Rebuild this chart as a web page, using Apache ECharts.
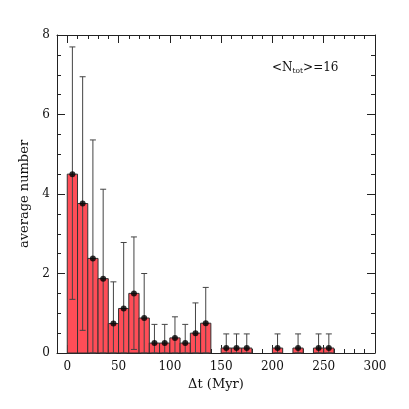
<!DOCTYPE html>
<html>
<head>
<meta charset="utf-8">
<script src="https://cdn.jsdelivr.net/npm/echarts@6/dist/echarts.min.js"></script>
<style>
  html, body { margin: 0; padding: 0; background: #fff; }
  #main { width: 409px; height: 409px; }
</style>
</head>
<body>
<div id="main"></div>
<script>
// histogram bins (Myr), left edges, width 10
const binStart = [0, 10, 20, 30, 40, 50, 60, 70, 80, 90, 100, 110, 120, 130, 150, 160, 170, 200, 220, 240, 250];
const avgNum   = [4.5, 3.76, 2.38, 1.87, 0.74, 1.12, 1.5, 0.88, 0.25, 0.25, 0.38, 0.25, 0.5, 0.75, 0.125, 0.125, 0.125, 0.125, 0.125, 0.125, 0.125];
const errUpper = [7.7, 6.95, 5.36, 4.12, 1.79, 2.78, 2.92, 2.0, 0.72, 0.72, 0.91, 0.72, 1.26, 1.65, 0.48, 0.48, 0.48, 0.48, 0.48, 0.48, 0.48];
const errLower = [1.35, 0.57, 0, 0, 0, 0, 0.09, 0, 0, 0, 0, 0, 0, 0, 0, 0, 0, 0, 0, 0, 0];
const xMajorTicks = [0, 50, 100, 150, 200, 250, 300];
const binWidth = 10;

const FONT = 'DejaVu Serif';
const AXIS_COLOR = '#222';

let chart = echarts.init(document.getElementById('main'));

// x axes: major (labels) + minor ticks, bottom and top
function xAxisDef(pos, major) {
  return {
    type: 'value', min: -10, max: 300, position: pos,
    interval: major ? 50 : 10,
    axisLine: { show: major, onZero: false, lineStyle: { color: AXIS_COLOR, width: 1 } },
    axisTick: major
      ? { inside: true, length: 8, customValues: xMajorTicks, lineStyle: { color: AXIS_COLOR } }
      : { inside: true, length: 4, lineStyle: { color: AXIS_COLOR } },
    axisLabel: (major && pos === 'bottom')
      ? { customValues: xMajorTicks, fontFamily: FONT, fontSize: 12, color: '#111', margin: 8 }
      : { show: false },
    splitLine: { show: false },
    name: (major && pos === 'bottom') ? 'Δt (Myr)' : '',
    nameLocation: 'middle', nameGap: 24,
    nameTextStyle: { fontFamily: FONT, fontSize: 13, color: '#111' }
  };
}

function yAxisDef(pos) {
  return {
    type: 'value', min: 0, max: 8, interval: 2, position: pos,
    axisLine: { show: true, onZero: false, lineStyle: { color: AXIS_COLOR, width: 1 } },
    axisTick: { inside: true, length: 8, lineStyle: { color: AXIS_COLOR } },
    minorTick: { show: true, splitNumber: 4, length: 4, lineStyle: { color: AXIS_COLOR } },
    axisLabel: pos === 'left'
      ? { fontFamily: FONT, fontSize: 12, color: '#111', margin: 7 }
      : { show: false },
    splitLine: { show: false },
    name: pos === 'left' ? 'average number' : '',
    nameLocation: 'middle', nameGap: 14,
    nameTextStyle: { fontFamily: FONT, fontSize: 13, color: '#111' }
  };
}

let option = {
  animation: false,
  backgroundColor: '#fff',
  grid: { left: 57, right: 34, top: 35, bottom: 56 },
  xAxis: [xAxisDef('bottom', true), xAxisDef('bottom', false), xAxisDef('top', true), xAxisDef('top', false)],
  yAxis: [yAxisDef('left'), yAxisDef('right')],
  graphic: [
    {
      type: 'text', left: 272, top: 62,
      style: {
        text: '<N{s|tot}>=16',
        fontFamily: FONT, fontSize: 12, fill: '#111',
        rich: {
          s: { fontFamily: FONT, fontSize: 7.5, fill: '#111', verticalAlign: 'bottom', padding: [6, 0, 0, 0] }
        }
      }
    }
  ],
  series: [
    {
      // histogram bars
      type: 'custom',
      xAxisIndex: 0, yAxisIndex: 0,
      renderItem: function (params, api) {
        let x0 = api.value(0), v = api.value(1);
        let p1 = api.coord([x0, v]);
        let p2 = api.coord([x0 + binWidth, 0]);
        return {
          type: 'rect',
          shape: { x: p1[0], y: p1[1], width: p2[0] - p1[0], height: p2[1] - p1[1] },
          style: { fill: '#ff4d57', stroke: '#333', lineWidth: 1 }
        };
      },
      encode: { x: 0, y: 1 },
      data: binStart.map((s, i) => [s, avgNum[i]])
    },
    {
      // error bars
      type: 'custom',
      xAxisIndex: 0, yAxisIndex: 0,
      renderItem: function (params, api) {
        let xc = api.value(0), lo = api.value(1), hi = api.value(2);
        let pHi = api.coord([xc, hi]);
        let pLo = api.coord([xc, lo]);
        let w = 3;
        let st = { stroke: '#444', lineWidth: 1 };
        return {
          type: 'group',
          children: [
            { type: 'line', shape: { x1: pHi[0], y1: pHi[1], x2: pLo[0], y2: pLo[1] }, style: st },
            { type: 'line', shape: { x1: pHi[0] - w, y1: pHi[1], x2: pHi[0] + w, y2: pHi[1] }, style: st },
            { type: 'line', shape: { x1: pLo[0] - w, y1: pLo[1], x2: pLo[0] + w, y2: pLo[1] }, style: st }
          ]
        };
      },
      encode: { x: 0, y: [1, 2] },
      data: binStart.map((s, i) => [s + binWidth / 2, errLower[i], errUpper[i]])
    },
    {
      type: 'scatter',
      xAxisIndex: 0, yAxisIndex: 0,
      symbol: 'circle', symbolSize: 6,
      itemStyle: { color: '#000' },
      data: binStart.map((s, i) => [s + binWidth / 2, avgNum[i]])
    }
  ]
};

chart.setOption(option);
</script>
</body>
</html>
